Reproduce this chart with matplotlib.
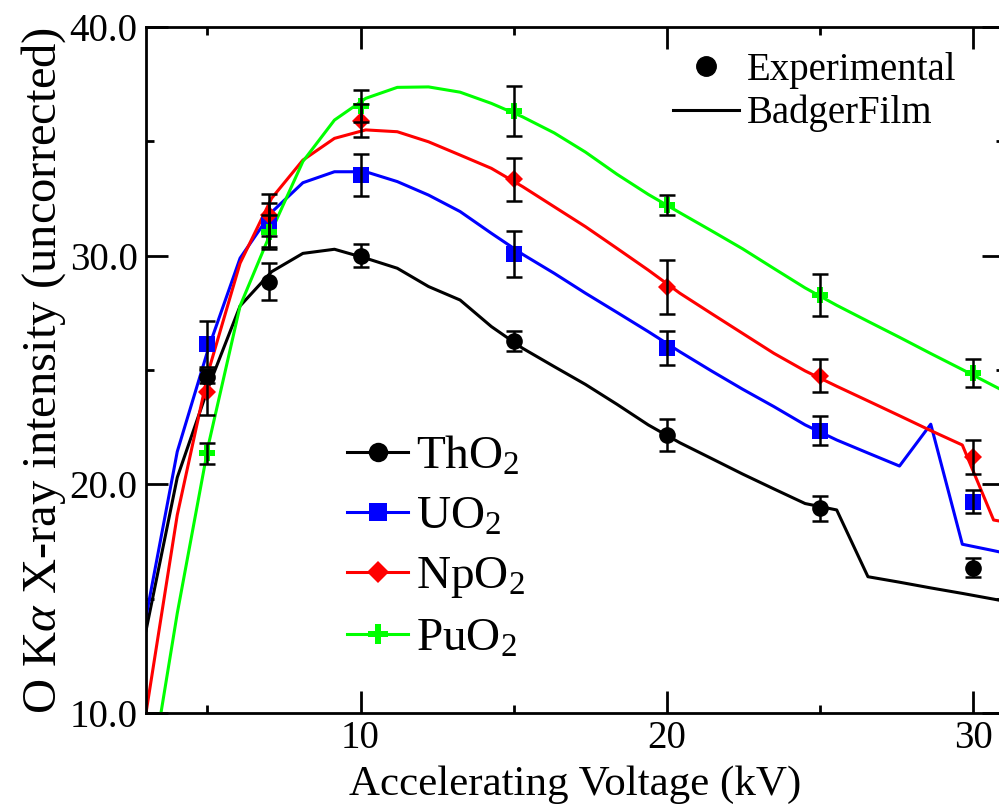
import matplotlib
matplotlib.use('Agg')
import matplotlib.pyplot as plt
from matplotlib.lines import Line2D
from matplotlib.ticker import MultipleLocator, FormatStrFormatter

plt.rcParams['font.family'] = ['Liberation Serif', 'DejaVu Serif']
plt.rcParams['mathtext.fontset'] = 'custom'
plt.rcParams['mathtext.rm'] = 'Liberation Serif'
plt.rcParams['mathtext.it'] = 'Liberation Serif:italic'

# measured points (kV)
kv = [5, 7, 10, 15, 20, 25, 30]
tho2 = [24.71, 28.86, 29.99, 26.28, 22.16, 18.95, 16.36]
tho2_err = [0.3, 0.8, 0.5, 0.44, 0.7, 0.55, 0.43]
uo2 = [26.14, 31.34, 33.53, 30.06, 25.95, 22.35, 19.24]
uo2_err = [1.0, 0.95, 0.92, 1.0, 0.75, 0.65, 0.5]
npo2 = [24.05, 31.78, 35.9, 33.34, 28.62, 24.74, 21.21]
npo2_err = [1.0, 0.92, 0.72, 0.94, 1.17, 0.72, 0.74]
puo2 = [21.36, 31.05, 36.55, 36.34, 32.22, 28.28, 24.86]
puo2_err = [0.45, 0.75, 0.7, 1.09, 0.42, 0.9, 0.62]

# BadgerFilm model curves
model_kv = [3.00, 4.02, 5.05, 6.07, 7.10, 8.12, 9.15, 10.17, 11.20, 12.22,
            13.25, 14.27, 15.29, 16.32, 17.34, 18.37, 19.39, 20.42, 21.44,
            22.47, 23.49, 24.51, 25.54, 26.56, 27.59, 28.61, 29.64, 30.66, 31.69]
tho2_model = [13.6, 20.3, 24.3, 27.8, 29.3, 30.1, 30.28, 29.89, 29.45, 28.65,
              28.06, 26.9, 25.95, 25.15, 24.37, 23.5, 22.6, 21.82, 21.14,
              20.45, 19.8, 19.16, 18.88, 15.96, 15.72, 15.47, 15.23, 14.98, 14.72]
uo2_model = [14.2, 21.43, 26.0, 29.89, 31.9, 33.19, 33.67, 33.67, 33.24, 32.65,
             31.93, 30.98, 30.06, 29.23, 28.36, 27.52, 26.68, 25.8, 24.97,
             24.16, 23.4, 22.6, 21.94, 21.37, 20.8, 22.63, 17.38, 17.1, 16.8]
npo2_model = [10.0, 18.66, 25.0, 29.67, 32.51, 34.18, 35.13, 35.5, 35.42, 34.98,
              34.4, 33.82, 33.02, 32.14, 31.27, 30.32, 29.37, 28.36, 27.48,
              26.6, 25.73, 24.96, 24.29, 23.65, 23.0, 22.35, 21.72, 18.44, 18.2]
puo2_model = [6.0, 14.36, 21.8, 27.8, 31.1, 34.12, 35.93, 36.88, 37.36, 37.38,
              37.15, 36.66, 36.07, 35.37, 34.53, 33.56, 32.68, 31.88, 31.1,
              30.3, 29.44, 28.59, 27.83, 27.13, 26.43, 25.72, 25.02, 24.31, 23.6]

names = ['ThO$_2$', 'UO$_2$', 'NpO$_2$', 'PuO$_2$']
colors = ['#000000', '#0000ff', '#ff0000', '#00ff00']
markers = ['o', 's', 'D', 'P']
msizes = [12, 11.5, 9.5, 12]
exp_vals = [tho2, uo2, npo2, puo2]
exp_errs = [tho2_err, uo2_err, npo2_err, puo2_err]
models = [tho2_model, uo2_model, npo2_model, puo2_model]

fig = plt.figure(figsize=(9.99, 8.09), dpi=100)
ax = fig.add_axes([146 / 999, 96 / 809, (1004 - 146) / 999, (713 - 27) / 809])

for y_mod, y_exp, err, c, m, ms in zip(models, exp_vals, exp_errs, colors, markers, msizes):
    ax.plot(model_kv, y_mod, color=c, lw=2.2, zorder=2)
    ax.plot(kv, y_exp, ls='none', marker=m, ms=ms, color=c, mec=c, mew=0, zorder=3)
    ax.errorbar(kv, y_exp, yerr=err, fmt='none', ecolor='k', elinewidth=1.8,
                capsize=5.5, capthick=1.8, zorder=4)

ax.set_xlim(3, 31)
ax.set_ylim(10, 40)
ax.xaxis.set_major_locator(MultipleLocator(10))
ax.xaxis.set_minor_locator(MultipleLocator(5))
ax.yaxis.set_major_locator(MultipleLocator(10))
ax.yaxis.set_minor_locator(MultipleLocator(5))
ax.yaxis.set_major_formatter(FormatStrFormatter('%.1f'))
ax.tick_params(which='both', direction='in', top=True, right=True, width=2,
               labelsize=28)
ax.tick_params(which='major', length=16)
ax.tick_params(which='minor', length=6)
ax.tick_params(axis='x', pad=5)
ax.tick_params(axis='y', pad=6)
for sp in ax.spines.values():
    sp.set_linewidth(2)

ax.set_xlabel('Accelerating Voltage (kV)', fontsize=31, labelpad=6)
ax.set_ylabel(r'O K$\mathit{\alpha}$ X-ray intensity (uncorrected)', fontsize=35, labelpad=1)

h1 = [Line2D([], [], ls='none', marker='o', color='k', ms=14),
      Line2D([], [], color='k', lw=2.2)]
leg1 = ax.legend(h1, ['Experimental', 'BadgerFilm'], loc='upper left',
                 bbox_to_anchor=(673 / 999, 1 - 52 / 809),
                 bbox_transform=fig.transFigure, frameon=False, fontsize=28,
                 handlelength=1.7, handletextpad=0.2, labelspacing=0.15,
                 borderpad=0, borderaxespad=0)
ax.add_artist(leg1)

h2 = [Line2D([], [], color=c, lw=2.2, marker=m, ms=ms + 2, mew=0)
      for c, m, ms in zip(colors, markers, msizes)]
ax.legend(h2, names, loc='upper left',
          bbox_to_anchor=(347 / 999, 1 - 435 / 809),
          bbox_transform=fig.transFigure, frameon=False, fontsize=34,
          handlelength=1.3, handletextpad=0.16, labelspacing=0.36,
          borderpad=0, borderaxespad=0)

fig.savefig('out.png', dpi=100)
